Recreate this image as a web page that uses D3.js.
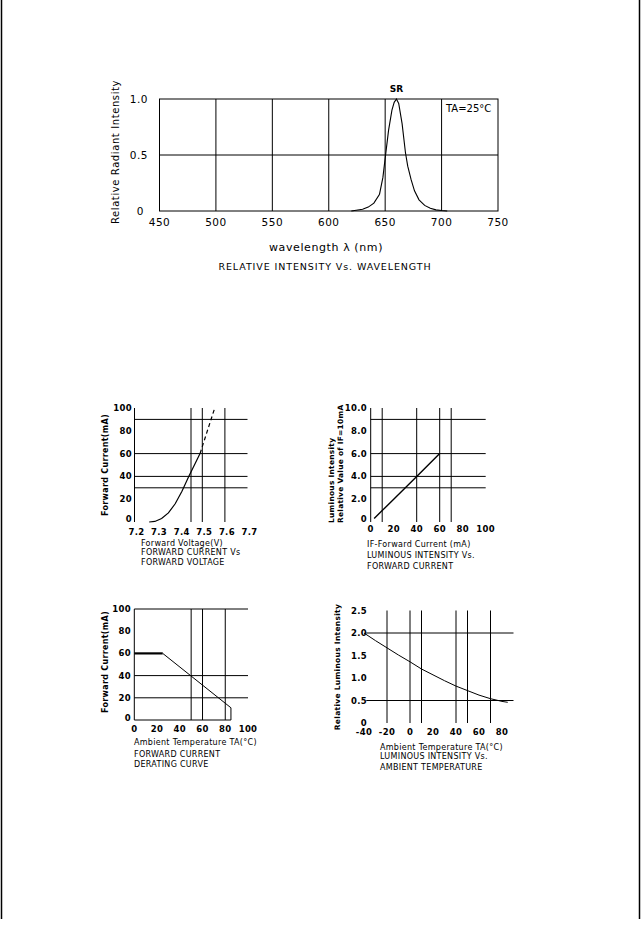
<!DOCTYPE html>
<html>
<head>
<meta charset="utf-8">
<script src="https://cdn.jsdelivr.net/npm/d3@7"></script>
<style>
  body { margin: 0; background: #fff; }
  svg { display: block; }
  text { font-family: "DejaVu Sans", sans-serif; fill: #000; }
  .tick { font-size: 8.5px; font-weight: bold; letter-spacing: 0.3px; }
  .cap { font-size: 8px; letter-spacing: 0.3px; }
</style>
</head>
<body>
<svg id="page" width="642" height="925"></svg>
<script>
//////// data
// relative intensity vs wavelength (nm)
var specWave = [620, 630, 635, 640, 645, 648, 650, 653, 656, 658, 660, 662, 665, 668, 670, 673, 676, 680, 685, 690, 695, 700, 705];
var specInt  = [0, 0.015, 0.035, 0.07, 0.15, 0.3, 0.47, 0.72, 0.9, 0.97, 1.0, 0.96, 0.78, 0.52, 0.4, 0.28, 0.18, 0.1, 0.05, 0.025, 0.01, 0.004, 0];
var specXTicks = [450, 500, 550, 600, 650, 700, 750];
var specYTicks = [0, 0.5, 1.0];

// forward current vs forward voltage
var vfVolt  = [7.265, 7.29, 7.32, 7.35, 7.38, 7.41, 7.44, 7.47, 7.49];
var vfCurr  = [0, 0.5, 3, 8, 16, 27, 40, 52, 60];
var vfDashVolt = [7.49, 7.555];
var vfDashCurr = [60, 100];
var vfXTicks = [7.2, 7.3, 7.4, 7.5, 7.6, 7.7];
var vfYTicks = [0, 20, 40, 60, 80, 100];

// luminous intensity vs forward current
var ivCurr = [3, 10, 20, 40, 60];
var ivRel  = [0.3, 1.0, 2.0, 4.0, 6.0];
var ivXTicks = [0, 20, 40, 60, 80, 100];
var ivYTicks = [0, 2, 4, 6, 8, 10];

// derating curve
var drTemp = [0, 25, 85, 85];
var drCurr = [60, 60, 11, 0];
var drXTicks = [0, 20, 40, 60, 80, 100];
var drYTicks = [0, 20, 40, 60, 80, 100];

// luminous intensity vs ambient temperature
var itTemp = [-40, -30, -20, -10, 0, 10, 20, 30, 40, 50, 60, 70, 80, 85];
var itRel  = [2.0, 1.83, 1.67, 1.51, 1.36, 1.2, 1.07, 0.94, 0.82, 0.72, 0.62, 0.54, 0.48, 0.46];
var itXTicks = [-40, -20, 0, 20, 40, 60, 80];
var itYTicks = [0, 0.5, 1.0, 1.5, 2.0, 2.5];

var svg = d3.select("#page");

// page edges
svg.append("line").attr("x1", 1.5).attr("x2", 1.5).attr("y1", 0).attr("y2", 919).attr("stroke", "#000").attr("stroke-width", 1.5);
svg.append("line").attr("x1", 639.5).attr("x2", 639.5).attr("y1", 0).attr("y2", 919).attr("stroke", "#000").attr("stroke-width", 1.5);

function hline(g, x, y, v, x0, x1) {
  g.append("line").attr("x1", x(x0)).attr("x2", x(x1)).attr("y1", y(v)).attr("y2", y(v))
    .attr("stroke", "#000").attr("stroke-width", 1);
}
function vline(g, x, y, v, y0, y1) {
  g.append("line").attr("x1", x(v)).attr("x2", x(v)).attr("y1", y(y0)).attr("y2", y(y1))
    .attr("stroke", "#000").attr("stroke-width", 1);
}
function curve(g, x, y, xs, ys, w, dash) {
  var pts = xs.map((d, i) => [d, ys[i]]);
  g.append("path").datum(pts)
    .attr("d", d3.line().x(d => x(d[0])).y(d => y(d[1])))
    .attr("fill", "none").attr("stroke", "#000").attr("stroke-width", w)
    .attr("stroke-dasharray", dash || null);
}
function ytitle(g, lines, x, y, size, anchor) {
  lines.forEach(function (t, i) {
    g.append("text").attr("transform", "translate(" + (x + i * 9) + "," + y + ") rotate(-90)")
      .attr("text-anchor", anchor || "middle").style("font-size", size + "px")
      .style("font-weight", "bold").style("letter-spacing", "0.3px").text(t);
  });
}
function caption(g, lines, x, y, gap) {
  lines.forEach(function (t, i) {
    g.append("text").attr("class", "cap").attr("x", x).attr("y", y + i * gap).text(t);
  });
}

//////// spectrum
(function () {
  var g = svg.append("g");
  var x = d3.scaleLinear().domain([450, 750]).range([159.5, 498]);
  var y = d3.scaleLinear().domain([0, 1]).range([211, 99]);
  g.append("rect").attr("x", x(450)).attr("y", y(1)).attr("width", x(750) - x(450)).attr("height", y(0) - y(1))
    .attr("fill", "none").attr("stroke", "#000").attr("stroke-width", 1);
  [500, 550, 600, 650, 700].forEach(v => vline(g, x, y, v, 0, 1));
  hline(g, x, y, 0.5, 450, 750);
  curve(g, x, y, specWave, specInt, 1.1);
  specXTicks.forEach(v => g.append("text").attr("x", x(v)).attr("y", 226).attr("text-anchor", "middle")
    .style("font-size", "10.5px").style("letter-spacing", "0.5px").text(v));
  specYTicks.forEach(v => g.append("text").attr("x", v === 0 ? 144 : 148).attr("y", y(v) + 4).attr("text-anchor", "end")
    .style("font-size", "10.5px").style("letter-spacing", "0.5px").text(v === 0 ? "0" : d3.format(".1f")(v)));
  g.append("text").attr("transform", "translate(119,152) rotate(-90)").attr("text-anchor", "middle")
    .style("font-size", "10px").style("letter-spacing", "0.6px").text("Relative Radiant Intensity");
  g.append("text").attr("x", x(660)).attr("y", 92).attr("text-anchor", "middle").style("font-size", "9px").style("font-weight", "bold").text("SR");
  g.append("text").attr("x", 446).attr("y", 112).style("font-size", "10px").text("TA=25°C");
  g.append("text").attr("x", 326).attr("y", 251).attr("text-anchor", "middle").style("font-size", "11px")
    .style("letter-spacing", "0.6px").text("wavelength λ  (nm)");
  g.append("text").attr("x", 325).attr("y", 270).attr("text-anchor", "middle").style("font-size", "9.5px")
    .style("letter-spacing", "0.9px").text("RELATIVE  INTENSITY  Vs.  WAVELENGTH");
})();

//////// forward current vs forward voltage
(function () {
  var g = svg.append("g");
  var x = d3.scaleLinear().domain([7.2, 7.7]).range([134.5, 247.5]);
  var y = d3.scaleLinear().domain([0, 100]).range([522, 408]);
  vline(g, x, y, 7.2, 0, 100);
  [90, 60, 40, 30].forEach(v => hline(g, x, y, v, 7.2, 7.7));
  [7.45, 7.5, 7.6].forEach(v => vline(g, x, y, v, 0, 100));
  curve(g, x, y, vfVolt, vfCurr, 1.2);
  curve(g, x, y, vfDashVolt, vfDashCurr, 1.2, "4,3");
  vfXTicks.forEach(v => g.append("text").attr("class", "tick").attr("x", x(v) + 2).attr("y", 535).attr("text-anchor", "middle").text(d3.format(".1f")(v)));
  vfYTicks.forEach(v => g.append("text").attr("class", "tick").attr("x", 132).attr("y", y(v) + (v === 0 ? 0 : 3)).attr("text-anchor", "end").text(v));
  ytitle(g, ["Forward Current(mA)"], 108, 465, 8);
  caption(g, ["Forward Voltage(V)"], 141, 546, 0);
  caption(g, ["FORWARD CURRENT Vs", "FORWARD VOLTAGE"], 141, 555, 10);
})();

//////// luminous intensity vs forward current
(function () {
  var g = svg.append("g");
  var x = d3.scaleLinear().domain([0, 100]).range([370.7, 485.7]);
  var y = d3.scaleLinear().domain([0, 10]).range([522, 408]);
  vline(g, x, y, 0, 0, 10);
  [9, 6, 4, 3].forEach(v => hline(g, x, y, v, 0, 100));
  [10, 40, 60, 70].forEach(v => vline(g, x, y, v, 0, 10));
  curve(g, x, y, ivCurr, ivRel, 1.4);
  ivXTicks.forEach(v => g.append("text").attr("class", "tick").attr("x", x(v)).attr("y", 532).attr("text-anchor", "middle").text(v));
  ivYTicks.forEach(v => g.append("text").attr("class", "tick").attr("x", 367).attr("y", y(v) + (v === 0 ? 0 : 3)).attr("text-anchor", "end").text(v === 0 ? "0" : d3.format(".1f")(v)));
  ytitle(g, ["Luminous Intensity", "Relative Value of IF=10mA"], 334, 523, 7.4, "start");
  caption(g, ["IF-Forward Current (mA)"], 367, 547, 0);
  caption(g, ["LUMINOUS INTENSITY Vs.", "FORWARD CURRENT"], 367, 558, 11);
})();

//////// derating curve
(function () {
  var g = svg.append("g");
  var x = d3.scaleLinear().domain([0, 100]).range([134.3, 248]);
  var y = d3.scaleLinear().domain([0, 100]).range([720, 609]);
  vline(g, x, y, 0, 0, 100);
  hline(g, x, y, 0, 0, 85);
  [100, 40, 20].forEach(v => hline(g, x, y, v, 0, 100));
  [50, 60, 80].forEach(v => vline(g, x, y, v, 0, 100));
  curve(g, x, y, drTemp.slice(0, 2), drCurr.slice(0, 2), 2.2);
  curve(g, x, y, drTemp.slice(1), drCurr.slice(1), 1);
  drXTicks.forEach(v => g.append("text").attr("class", "tick").attr("x", x(v)).attr("y", 732).attr("text-anchor", "middle").text(v));
  drYTicks.forEach(v => g.append("text").attr("class", "tick").attr("x", 131).attr("y", y(v) + (v === 0 ? 1 : 3)).attr("text-anchor", "end").text(v));
  ytitle(g, ["Forward Current(mA)"], 108, 662, 8);
  caption(g, ["Ambient Temperature TA(°C)"], 134, 745, 0);
  caption(g, ["FORWARD CURRENT", "DERATING CURVE"], 134, 757, 10);
})();

//////// luminous intensity vs ambient temperature
(function () {
  var g = svg.append("g");
  var x = d3.scaleLinear().domain([-40, 80]).range([364, 502]);
  var y = d3.scaleLinear().domain([0, 2.5]).range([723, 610.5]);
  [2.0, 0.5].forEach(v => hline(g, x, y, v, -38, 90));
  [-20, 0, 10, 40, 50, 70].forEach(v => vline(g, x, y, v, 0, 2.5));
  curve(g, x, y, itTemp, itRel, 1);
  itXTicks.forEach(v => g.append("text").attr("class", "tick").attr("x", x(v)).attr("y", 735).attr("text-anchor", "middle").text(v));
  itYTicks.forEach(v => g.append("text").attr("class", "tick").attr("x", 367).attr("y", y(v) + 3).attr("text-anchor", "end").text(v === 0 ? "0" : d3.format(".1f")(v)));
  ytitle(g, ["Relative Luminous Intensity"], 340, 667, 7.5);
  caption(g, ["Ambient Temperature TA(°C)"], 380, 750, 0);
  caption(g, ["LUMINOUS INTENSITY Vs.", "AMBIENT TEMPERATURE"], 380, 759, 11);
})();
</script>
</body>
</html>
